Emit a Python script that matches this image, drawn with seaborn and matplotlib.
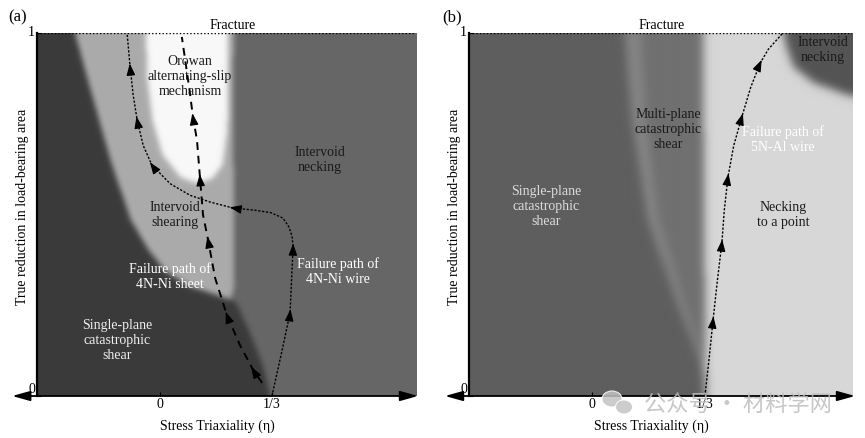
import numpy as np
import pandas as pd
import matplotlib
matplotlib.use("Agg")
import matplotlib.pyplot as plt
from matplotlib.path import Path
from matplotlib.patches import Ellipse
import seaborn as sns

sns.set_theme(style="white")
plt.rcParams["font.family"] = ["Liberation Serif", "Noto Sans CJK SC", "DejaVu Sans"]

# ---------------- data ----------------
xticks_vals = [0, 1 / 3]
xticks_labels = ["0", "1/3"]
yticks_vals = [0, 1]
yticks_labels = ["0", "1"]

# Panel (a) region boundaries (stress triaxiality, reduction)
a_dark_x = [-0.5, -0.27, -0.208, -0.149, -0.089, -0.036, 0.015, 0.089, 0.164, 0.223, 0.262, 0.304, 0.34, -0.5]
a_dark_y = [1.05, 1.05, 0.843, 0.650, 0.485, 0.402, 0.342, 0.300, 0.278, 0.259, 0.182, 0.085, -0.05, -0.05]
a_light_x = [-0.5, 0.218, 0.216, 0.220, 0.220, 0.200, -0.5]
a_light_y = [1.05, 1.05, 0.70, 0.50, 0.30, 0.24, 0.24]
a_white_x = [-0.045, -0.039, -0.024, 0.006, 0.060, 0.110, 0.155, 0.185, 0.199, 0.202, 0.199]
a_white_y = [1.05, 0.871, 0.760, 0.664, 0.601, 0.584, 0.598, 0.636, 0.733, 0.871, 1.05]
a_levels = {"necking": 0.40, "light": 0.67, "white": 0.97, "dark": 0.23}

# Panel (b) region boundaries
b_neck_x = [0.327, 0.330, 0.336, 0.9, 0.9]
b_neck_y = [1.05, 0.485, -0.05, -0.05, 1.05]
b_multi_x = [0.090, 0.327, 0.330, 0.336, 0.319, 0.245, 0.162, 0.115]
b_multi_y = [1.05, 1.05, 0.485, -0.05, 0.091, 0.264, 0.485, 0.760]
b_multi_in_x = [0.140, 0.327, 0.330, 0.336, 0.332, 0.268, 0.195, 0.158]
b_multi_in_y = [1.05, 1.05, 0.485, -0.05, 0.091, 0.264, 0.485, 0.760]
b_ivn_x = [0.555, 0.569, 0.593, 0.652, 0.732, 0.767, 0.9, 0.9]
b_ivn_y = [1.05, 0.972, 0.906, 0.862, 0.835, 0.824, 0.82, 1.05]
b_levels = {"single": 0.37, "necking": 0.84, "multi_edge": 0.52, "multi": 0.44, "ivn": 0.33}

# Failure paths
a_wire_x = [0.333, 0.362, 0.387, 0.396, 0.393, 0.384, 0.366, 0.330, 0.280, 0.217, 0.150, 0.089, 0.030,
            -0.024, -0.050, -0.068, -0.080, -0.089, -0.098]
a_wire_y = [0.0, 0.12, 0.229, 0.41, 0.44, 0.465, 0.49, 0.505, 0.512, 0.518, 0.534, 0.553, 0.585,
            0.636, 0.69, 0.76, 0.83, 0.906, 1.0]
a_wire_arrows = [2, 3, 9, 13, 15, 17]

a_sheet_x = [0.304, 0.277, 0.238, 0.199, 0.164, 0.143, 0.128, 0.119, 0.110, 0.098, 0.089, 0.077, 0.065]
a_sheet_y = [0.036, 0.072, 0.140, 0.223, 0.325, 0.430, 0.499, 0.601, 0.705, 0.769, 0.835, 0.912, 0.989]
a_sheet_arrows = [1, 3, 5, 7, 9]

b_wire_x = [0.333, 0.345, 0.357, 0.370, 0.383, 0.390, 0.401, 0.418, 0.442, 0.468, 0.496, 0.520, 0.563]
b_wire_y = [0.0, 0.10, 0.209, 0.32, 0.421, 0.51, 0.603, 0.69, 0.769, 0.85, 0.917, 0.955, 1.0]
b_wire_arrows = [2, 4, 6, 8, 10]

# ---------------- helpers ----------------
def blur(img, sigma):
    r = int(3 * sigma)
    k = np.exp(-0.5 * (np.arange(-r, r + 1) / sigma) ** 2)
    k /= k.sum()
    pad = np.pad(img, r, mode="edge")
    tmp = np.apply_along_axis(lambda m: np.convolve(m, k, "valid"), 0, pad)
    return np.apply_along_axis(lambda m: np.convolve(m, k, "valid"), 1, tmp)


def region_image(ax, xlim, base, polys, sigma):
    nx, ny = 380, 364
    xs = np.linspace(xlim[0], xlim[1], nx)
    ys = np.linspace(0, 1, ny)
    X, Y = np.meshgrid(xs, ys)
    pts = np.column_stack([X.ravel(), Y.ravel()])
    img = np.full((ny, nx), base)
    for px, py, lev in polys:
        m = Path(np.column_stack([px, py])).contains_points(pts).reshape(ny, nx)
        img[m] = lev
    img = blur(img, sigma)
    ax.imshow(img, origin="lower", extent=[xlim[0], xlim[1], 0, 1], cmap="gray",
              vmin=0, vmax=1, aspect="auto", interpolation="bilinear", zorder=0)


def draw_path(ax, xs, ys, arrows, dashes, lw):
    df = pd.DataFrame({"x": xs, "y": ys})
    sns.lineplot(data=df, x="x", y="y", sort=False, estimator=None, ax=ax,
                 color="black", lw=lw, zorder=3)
    ax.lines[-1].set_linestyle((0, dashes))
    for i in arrows:
        j0, j1 = max(i - 1, 0), min(i + 1, len(xs) - 1)
        dx, dy = xs[j1] - xs[j0], ys[j1] - ys[j0]
        n = np.hypot(dx, dy)
        dx, dy = dx / n, dy / n
        ax.annotate("", xy=(xs[i] + 0.01 * dx, ys[i] + 0.01 * dy),
                    xytext=(xs[i] - 0.002 * dx, ys[i] - 0.002 * dy),
                    arrowprops=dict(arrowstyle="-|>,head_length=0.6,head_width=0.22",
                                    color="black", lw=0.8, shrinkA=0, shrinkB=0),
                    zorder=4)


def style_axes(ax, xlim, arrow_x, fracture_x):
    ax.set_xlim(*xlim)
    ax.set_ylim(0, 1)
    for s in ["top", "right", "bottom"]:
        ax.spines[s].set_visible(False)
    ax.spines["left"].set_color("black")
    ax.spines["left"].set_linewidth(1.6)
    ax.set_xticks(xticks_vals)
    ax.set_xticklabels(xticks_labels)
    ax.set_yticks(yticks_vals)
    ax.set_yticklabels(yticks_labels)
    ax.tick_params(axis="both", direction="in", length=3, width=0.8, color="black",
                   labelsize=10, labelcolor="black", pad=1.5)
    ax.tick_params(axis="y", left=True)
    ax.tick_params(axis="x", bottom=True)
    for lab in ax.get_yticklabels():
        lab.set_verticalalignment("bottom" if lab.get_text() == "0" else "center")
    ax.axhline(1, ls=(0, (1, 1.5)), color="black", lw=1.0, zorder=3)
    ax.annotate("", xy=(arrow_x[1], 0), xytext=(arrow_x[0], 0), xycoords="data",
                annotation_clip=False,
                arrowprops=dict(arrowstyle="<|-|>,head_length=0.9,head_width=0.25",
                                color="black", lw=1.3, shrinkA=0, shrinkB=0))
    ax.text(fracture_x, 1.004, "Fracture", ha="center", va="bottom", fontsize=10, color="black")
    ax.set_xlabel("Stress Triaxiality (η)", fontsize=10, color="black")
    ax.set_ylabel("True reduction in load-bearing area", fontsize=10, color="black")
    ax.xaxis.set_label_coords(0.475, -0.066)
    ax.yaxis.set_label_coords(-0.02, 0.52)
    ax.grid(False)


# ---------------- figure ----------------
fig = plt.figure(figsize=(8.65, 4.38), dpi=100)
fig.patch.set_facecolor("white")

xlim_a = (-0.366, 0.762)
xlim_b = (-0.363, 0.767)
ax_a = fig.add_axes([0.0428, 0.0959, 0.4382, 0.8288])
ax_b = fig.add_axes([0.5422, 0.0959, 0.4428, 0.8288])

# Panel (a)
region_image(ax_a, xlim_a, a_levels["necking"],
             [(a_light_x, a_light_y, a_levels["light"]),
              (a_white_x, a_white_y, a_levels["white"]),
              (a_dark_x, a_dark_y, a_levels["dark"])], sigma=2.8)
draw_path(ax_a, a_sheet_x, a_sheet_y, a_sheet_arrows, (4, 3), 1.4)
draw_path(ax_a, a_wire_x, a_wire_y, a_wire_arrows, (1.6, 1.2), 1.0)
style_axes(ax_a, xlim_a, (-0.44, 0.768), 0.217)

dark_txt = "#1a1a1a"
ax_a.text(0.089, 0.879, "Orowan\nalternating-slip\nmechanism", ha="center", va="center",
          fontsize=10, color=dark_txt, linespacing=1.2, zorder=5)
ax_a.text(0.476, 0.650, "Intervoid\nnecking", ha="center", va="center",
          fontsize=10, color=dark_txt, linespacing=1.2, zorder=5)
ax_a.text(0.045, 0.499, "Intervoid\nshearing", ha="center", va="center",
          fontsize=10, color=dark_txt, linespacing=1.2, zorder=5)
ax_a.text(0.030, 0.328, "Failure path of\n4N-Ni sheet", ha="center", va="center",
          fontsize=10, color="white", linespacing=1.2, zorder=5)
ax_a.text(0.530, 0.342, "Failure path of\n4N-Ni wire", ha="center", va="center",
          fontsize=10, color="white", linespacing=1.2, zorder=5)
ax_a.text(-0.128, 0.154, "Single-plane\ncatastrophic\nshear", ha="center", va="center",
          fontsize=10, color="#eeeeee", linespacing=1.2, zorder=5)

# Panel (b)
region_image(ax_b, xlim_b, b_levels["single"],
             [(b_neck_x, b_neck_y, b_levels["necking"]),
              (b_multi_x, b_multi_y, b_levels["multi_edge"]),
              (b_multi_in_x, b_multi_in_y, b_levels["multi"]),
              (b_ivn_x, b_ivn_y, b_levels["ivn"])], sigma=4.5)
draw_path(ax_b, b_wire_x, b_wire_y, b_wire_arrows, (1.6, 1.2), 1.0)
style_axes(ax_b, xlim_b, (-0.434, 0.776), 0.204)

ax_b.text(0.224, 0.733, "Multi-plane\ncatastrophic\nshear", ha="center", va="center",
          fontsize=10, color=dark_txt, linespacing=1.2, zorder=5)
ax_b.text(-0.136, 0.521, "Single-plane\ncatastrophic\nshear", ha="center", va="center",
          fontsize=10, color="#dcdcdc", linespacing=1.2, zorder=5)
ax_b.text(0.563, 0.705, "Failure path of\n5N-Al wire", ha="center", va="center",
          fontsize=10, color="white", linespacing=1.2, zorder=5)
ax_b.text(0.563, 0.499, "Necking\nto a point", ha="center", va="center",
          fontsize=10, color=dark_txt, linespacing=1.2, zorder=5)
ax_b.text(0.681, 0.953, "Intervoid\nnecking", ha="center", va="center",
          fontsize=10, color=dark_txt, linespacing=1.2, zorder=5)

fig.text(18 / 865, 1 - 17 / 438, "(a)", ha="center", va="center", fontsize=12, color="black")
fig.text(452 / 865, 1 - 17 / 438, "(b)", ha="center", va="center", fontsize=12, color="black")

# watermark (with simple chat-bubble icon)
for cx, cy, w, h in [(612, 399, 20, 16), (624, 407, 17, 14)]:
    fig.patches.append(Ellipse((cx / 865, 1 - cy / 438), w / 865, h / 438,
                               transform=fig.transFigure, facecolor="#c4c4c4",
                               edgecolor="white", lw=0.8, alpha=0.85, zorder=9))
fig.text(0.853, 0.076, "公众号 · 材料学网", ha="center", va="center", fontsize=16,
         color="#bdbdbd", alpha=0.85, family=["Noto Sans CJK SC", "DejaVu Sans"], zorder=10)

fig.savefig("out.png", dpi=100, facecolor="white")
